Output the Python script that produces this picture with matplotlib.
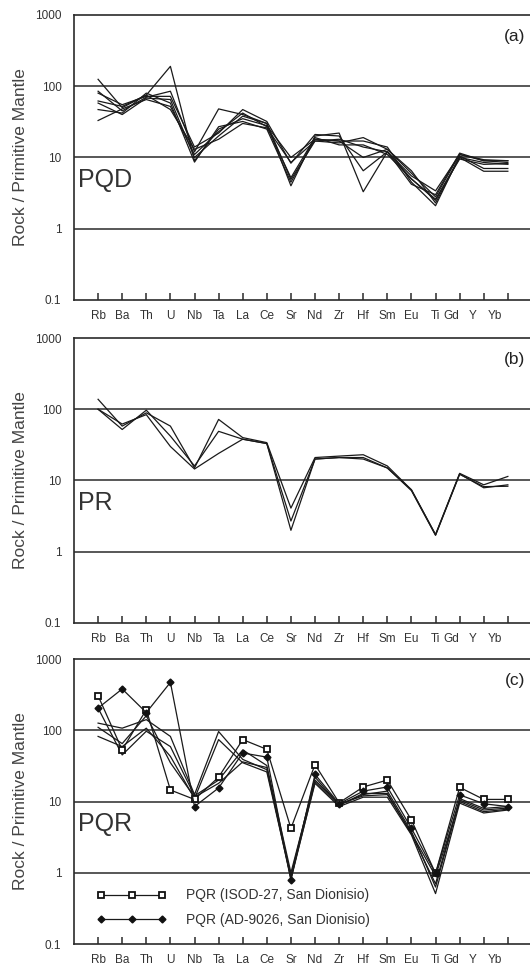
import matplotlib
matplotlib.use("Agg")
import matplotlib.pyplot as plt
from matplotlib.ticker import FixedLocator, NullFormatter
from matplotlib.transforms import ScaledTranslation

plt.rcParams['font.family'] = ['Liberation Sans', 'DejaVu Sans']

elements = ["Rb", "Ba", "Th", "U", "Nb", "Ta", "La", "Ce", "Sr", "Nd",
            "Zr", "Hf", "Sm", "Eu", "Ti", "Gd", "Y", "Yb"]

# (a) PQD samples
pqd = [
    [125, 50, 75, 190, 9.0, 25, 35, 28, 10.0, 18, 17, 10.0, 13, 6.0, 2.8, 11.0, 9.0, 8.5],
    [85, 45, 70, 85, 12.0, 48, 40, 30, 4.0, 20, 22, 3.3, 12, 5.0, 2.5, 10.0, 8.5, 8.0],
    [80, 55, 72, 72, 14.0, 22, 47, 32, 8.3, 21, 20, 6.5, 12, 5.5, 3.4, 11.0, 9.3, 9.0],
    [58, 40, 68, 65, 10.0, 20, 38, 30, 4.9, 17, 16, 19.0, 13, 6.5, 2.3, 10.0, 6.4, 6.4],
    [47, 42, 80, 58, 8.6, 27, 32, 25, 4.5, 18, 17, 17.0, 14, 4.5, 2.1, 10.5, 7.0, 7.0],
    [33, 48, 65, 52, 11.0, 23, 42, 27, 5.2, 19, 15, 15.0, 11, 5.0, 2.6, 9.5, 8.0, 8.2],
    [62, 52, 75, 47, 13.0, 18, 30, 26, 8.5, 17, 18, 14.0, 12, 4.2, 3.0, 11.5, 9.0, 9.0],
]

# (b) PR samples
pr = [
    [138, 58, 89, 58, 15, 72, 40, 34, 4.1, 21, 22, 23, 16, 7.4, 1.75, 12.6, 8.7, 11.4],
    [100, 52, 97, 42, 16, 49, 38, 33, 2.7, 20, 21, 21, 15, 7.4, 1.72, 12.4, 7.9, 8.7],
    [100, 62, 84, 30, 14.5, 24, 38, 33, 2.0, 20, 21, 20, 15, 7.2, 1.70, 12.2, 8.2, 8.3],
]

# (c) PQR samples
pqr = [
    [126, 107, 141, 82, 12.5, 96, 39, 28, 0.9, 22, 9.0, 12.5, 14, 3.8, 0.63, 10.5, 7.6, 8.1],
    [82, 59, 107, 43, 11.0, 74, 35, 26, 0.85, 18, 8.5, 11.5, 11.5, 3.4, 0.51, 9.5, 6.9, 7.6],
    [205, 45, 97, 59, 12.0, 20, 53, 32, 1.0, 20, 9.2, 12.0, 12.5, 3.6, 0.9, 10.0, 7.2, 7.8],
    [110, 65, 160, 35, 11.5, 18, 36, 30, 0.8, 19, 8.8, 13.0, 13.0, 3.5, 0.7, 11.0, 8.0, 8.5],
]
isod27 = [305, 53, 195, 14.5, 10.7, 22, 74, 54, 4.2, 33, 9.6, 16, 20, 5.5, 0.98, 15.8, 10.7, 10.7]
ad9026 = [205, 380, 177, 470, 8.5, 15.5, 48, 42, 0.8, 24, 9.3, 14, 16, 4.2, 0.98, 12.4, 9.3, 8.5]

panels = [("(a)", "PQD", pqd), ("(b)", "PR", pr), ("(c)", "PQR", pqr)]
bottoms = [0.6911, 0.3584, 0.0278]

fig = plt.figure(figsize=(5.30, 9.71), dpi=100)
x = list(range(len(elements)))

for (tag, name, rows), b in zip(panels, bottoms):
    ax = fig.add_axes([0.1396, b, 0.870, 0.2935])
    ax.set_yscale('log')
    ax.set_ylim(0.1, 1000)
    ax.set_xlim(-1.0, 18.13)
    for lvl in [1, 10, 100]:
        ax.axhline(lvl, color='#2a2a2a', lw=1.1, zorder=1)
    for r in rows:
        ax.plot(x, r, color='#1a1a1a', lw=0.9, zorder=2)
    if name == "PQR":
        ax.plot(x, isod27, color='#1a1a1a', lw=0.9, marker='s', ms=5,
                mfc='white', mec='#111111', mew=1.3, zorder=3,
                label="PQR (ISOD-27, San Dionisio)")
        ax.plot(x, ad9026, color='#1a1a1a', lw=0.9, marker='D', ms=3.5,
                mfc='#111111', mec='#111111', zorder=3,
                label="PQR (AD-9026, San Dionisio)")
        ax.legend(loc='lower left', bbox_to_anchor=(0.05, 0.06), frameon=False,
                  numpoints=3, handlelength=5.0, handletextpad=1.4,
                  labelspacing=0.75, borderpad=0, borderaxespad=0,
                  fontsize=10, labelcolor='#333333')
    ax.spines['right'].set_visible(False)
    for s in ['left', 'bottom', 'top']:
        ax.spines[s].set_linewidth(1.2)
        ax.spines[s].set_color('#2a2a2a')
    ax.set_yticks([0.1, 1, 10, 100, 1000])
    ax.set_yticklabels(["0.1", "1", "10", "100", "1000"])
    ax.tick_params(axis='y', which='major', length=0, pad=9, labelsize=8.5,
                   labelcolor='#333333')
    if name == "PR":
        ax.yaxis.set_minor_locator(FixedLocator([100]))
        ax.yaxis.set_minor_formatter(NullFormatter())
        ax.tick_params(axis='y', which='minor', left=True, right=True,
                       direction='in', length=10, width=2.5, color='#2a2a2a')
    else:
        ax.yaxis.set_minor_locator(FixedLocator([]))
    ax.set_xticks(x)
    ax.set_xticklabels(elements)
    ax.tick_params(axis='x', direction='in', length=5, width=1.1, color='#2a2a2a',
                   pad=7, labelsize=8.5, labelcolor='#333333')
    shifts = {"Gd": -8, "Y": -11, "Yb": -13}
    for lab in ax.get_xticklabels():
        if lab.get_text() in shifts:
            lab.set_transform(lab.get_transform() +
                              ScaledTranslation(shifts[lab.get_text()] / 100, 0,
                                                fig.dpi_scale_trans))
    ax.set_ylabel("Rock / Primitive Mantle", fontsize=12.5, color='#444444', labelpad=5)
    ax.text(0.978, 0.925, tag, transform=ax.transAxes, ha='right', va='center',
            fontsize=12.5, color='#222222')
    ax.text(0.008, 0.42, name, transform=ax.transAxes, ha='left', va='center',
            fontsize=18, color='#333333')

fig.savefig("out.png", dpi=100)
